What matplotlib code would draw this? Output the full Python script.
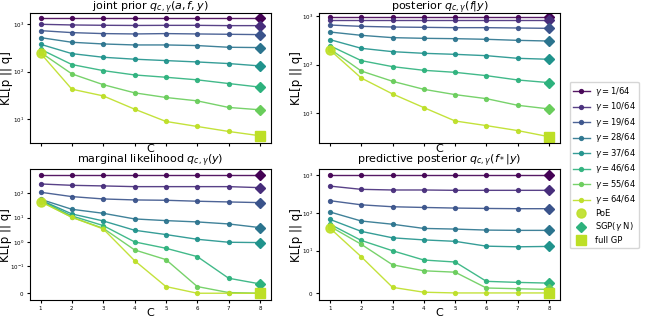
import numpy as np
import matplotlib.pyplot as plt

C = [1, 2, 3, 4, 5, 6, 7, 8]
gamma_labels = ['1/64', '10/64', '19/64', '28/64', '37/64', '46/64', '55/64', '64/64']

# KL per gamma (rows) and C (columns)
joint_prior = [
    [1380, 1380, 1380, 1380, 1380, 1380, 1380, 1380],
    [1000, 968, 953, 945, 950, 950, 937, 937],
    [735, 667, 636, 625, 636, 625, 615, 605],
    [523, 417, 384, 366, 366, 355, 327, 322],
    [378, 240, 201, 183, 171, 160, 148, 132],
    [297, 141, 105, 85, 76, 67, 56, 47],
    [255, 89.5, 53, 35.6, 28.4, 24.1, 17.5, 15.6],
    [245, 42.5, 30.7, 16.1, 8.85, 6.93, 5.44, 4.41],
]
posterior = [
    [939, 939, 939, 939, 939, 939, 939, 939],
    [828, 828, 828, 828, 828, 828, 828, 828],
    [653, 613, 594, 585, 576, 576, 567, 558],
    [469, 401, 359, 348, 342, 332, 316, 306],
    [327, 217, 185, 171, 163, 153, 135, 129],
    [245, 121, 91, 76.5, 69.5, 59.4, 48.4, 42.7],
    [210, 74, 45.5, 31.1, 24.2, 20, 14.6, 12.3],
    [200, 53.2, 25, 13.1, 6.95, 5.58, 4.41, 3.3],
]
marginal = [
    [565, 565, 565, 565, 565, 565, 565, 565],
    [241, 212, 200, 187, 187, 187, 187, 170],
    [110, 72.8, 58.3, 53.1, 51.4, 47, 43.9, 41.2],
    [56.5, 21.9, 15.0, 8.79, 7.5, 6.62, 5.47, 3.87],
    [53, 14.1, 7.27, 3.01, 2.0, 1.28, 0.966, 0.936],
    [50, 11.7, 4.68, 1.0, 0.547, 0.249, 0.0555, 0.0345],
    [47, 10.3, 3.63, 0.468, 0.187, 0.0247, 0.0025, 0.0],
    [45.3, 10.3, 3.41, 0.170, 0.0247, 0.0, 0.0, 0.0],
]
predictive = [
    [1000, 1000, 1000, 1000, 1000, 1000, 1000, 1000],
    [504, 414, 398, 398, 390, 390, 390, 390],
    [208, 162, 144, 138, 133, 130, 128, 128],
    [105, 60.7, 49.9, 38.7, 37.2, 35, 34.4, 34.4],
    [67, 32.4, 21.9, 19.3, 17.7, 13.2, 12.7, 13.0],
    [50, 18.7, 10, 7.8, 7.33, 2.75, 2.5, 2.33],
    [44, 14.8, 6.67, 5.25, 4.92, 1.17, 1.0, 0.83],
    [39.4, 8.58, 1.33, 0.17, 0, 0, 0, 0],
]
poe = [245, 200, 45.3, 39.4]
full_gp = [4.41, 3.3, 0.0, 0.0]

titles = [r'joint prior $q_{c,\gamma}(a,f,y)$', r'posterior $q_{c,\gamma}(f|y)$',
          r'marginal likelihood $q_{c,\gamma}(y)$', r'predictive posterior $q_{c,\gamma}(f_*|y)$']

colors = plt.cm.viridis(np.linspace(0, 0.9, 8))

fig = plt.figure(figsize=(6.49, 3.19), dpi=100)
boxes = [
    [0.0455, 0.5517, 0.372, 0.4085],
    [0.4915, 0.5517, 0.3713, 0.4085],
    [0.0455, 0.0596, 0.372, 0.4097],
    [0.4915, 0.0596, 0.3713, 0.4097],
]
panels = [joint_prior, posterior, marginal, predictive]
ylims = [(3.1, 1758), (2.45, 1170), (-0.025, 966), (-1.67, 1396)]

for k, data in enumerate(panels):
    ax = fig.add_axes(boxes[k])
    for i, s in enumerate(data):
        ax.plot(C, s, '-o', color=colors[i], ms=2.8, lw=1, alpha=0.9,
                label=r'$\gamma = $' + gamma_labels[i])
    ax.plot(C[0], poe[k], 'o', color=colors[-1], ms=6.5, alpha=0.9, label='PoE')
    for i in range(7):
        ax.plot(C[-1], data[i][-1], 'D', color=colors[i], ms=5.5,
                label='SGP($\\gamma$ N)' if i == 5 else None)
    ax.plot(C[-1], full_gp[k], 's', color=colors[-1], ms=6.5, label='full GP')

    if k < 2:
        ax.set_yscale('log')
    elif k == 2:
        ax.set_yscale('symlog', linthresh=0.1)
    else:
        ax.set_yscale('symlog', linthresh=10)
    ax.set_ylim(ylims[k])
    ax.yaxis.set_minor_locator(plt.NullLocator())
    ax.set_xticks(C)
    ax.tick_params(labelsize=4, length=2.5, pad=1.5)
    if k < 2:
        ax.tick_params(axis='x', labelbottom=False)
        ax.set_xlabel('C', fontsize=8, labelpad=-1.8)
        ax.set_title(titles[k], fontsize=8, pad=1.5)
    else:
        ax.set_xlabel('C', fontsize=8, labelpad=-1.5)
        ax.set_title(titles[k], fontsize=8, pad=0.3)
    ax.set_ylabel('KL[p || q]', fontsize=8.5, labelpad=-1.5 if k == 2 else -0.5)
    if k == 0:
        handles, labels = ax.get_legend_handles_labels()

fig.legend(handles, labels, loc='upper left', bbox_to_anchor=(0.878, 0.744),
           borderaxespad=0, fontsize=6, labelspacing=0.3, handletextpad=0.6)

plt.savefig('out.png', dpi=100)
